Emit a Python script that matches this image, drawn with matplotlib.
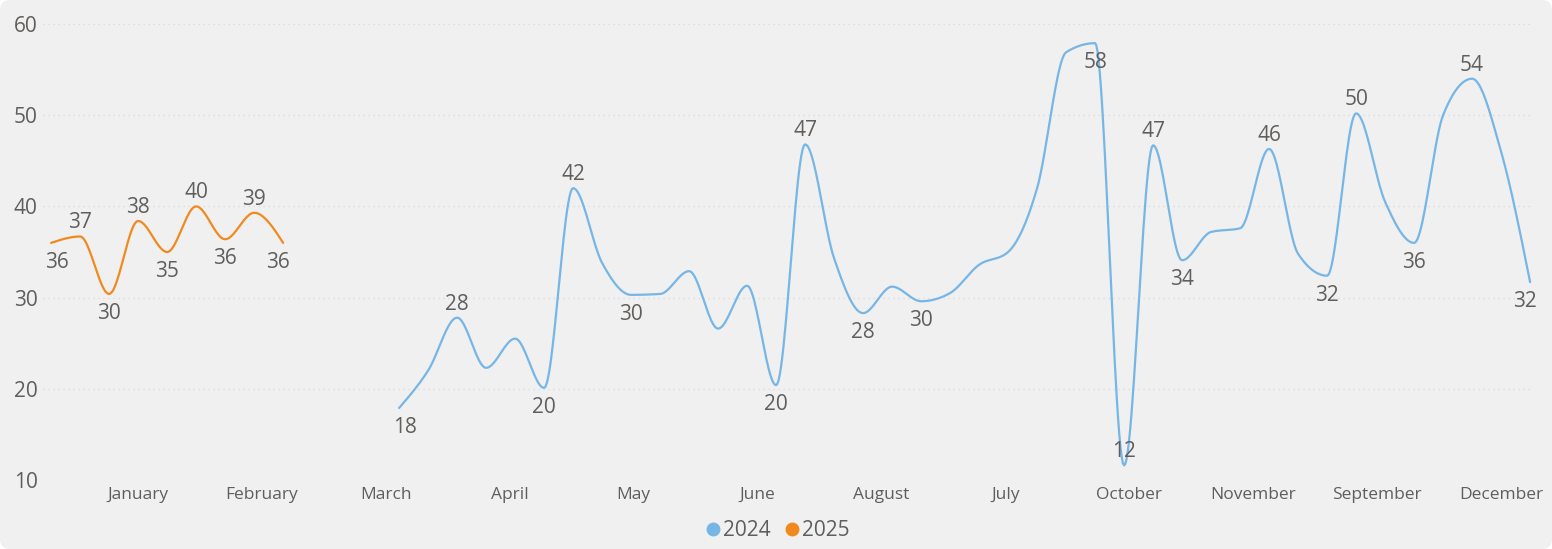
import numpy as np
import matplotlib
matplotlib.use("Agg")
import matplotlib.pyplot as plt
from matplotlib.patches import FancyBboxPatch
from matplotlib.lines import Line2D

plt.rcParams['font.family'] = ['Open Sans', 'DejaVu Sans']

# weekly values
weeks_2025 = [1, 2, 3, 4, 5, 6, 7, 8, 9]
vals_2025 = [36, 36.7, 30.4, 38.4, 35, 40, 36.4, 39.3, 36]

weeks_2024 = list(range(13, 53))
vals_2024 = [17.9, 22, 27.8, 22.3, 25.5, 20.1, 42, 33.8, 30.3, 30.4,
             32.9, 26.6, 31.3, 20.4, 46.8, 34.3, 28.3, 31.2, 29.6, 30.5,
             33.6, 35, 42, 56.9, 57.9, 11.6, 46.7, 34.1, 37.2, 37.6,
             46.3, 34.8, 32.4, 50.2, 40.5, 36, 50, 54, 46, 31.7]

# which points carry a data label, and on which side
labels_2025 = {1: 'below', 2: 'above', 3: 'below', 4: 'above', 5: 'below',
               6: 'above', 7: 'below', 8: 'above', 9: 'below'}
labels_2024 = {13: 'below', 15: 'above', 18: 'below', 19: 'above', 21: 'below',
               26: 'below', 27: 'above', 29: 'below', 31: 'below', 37: 'below',
               38: 'above', 39: 'above', 40: 'below', 43: 'above', 45: 'below',
               46: 'above', 48: 'below', 50: 'above', 52: 'below'}

month_labels = ['January', 'February', 'March', 'April', 'May', 'June',
                'August', 'July', 'October', 'November', 'September', 'December']

blue = '#76B6E6'
orange = '#F08A1E'
text_col = '#605E5C'


def monotone(x, y, n=24):
    # monotone cubic (d3 curveMonotoneX style)
    x = np.asarray(x, float)
    y = np.asarray(y, float)
    h = np.diff(x)
    s = np.diff(y) / h
    t = np.zeros(len(x))
    for i in range(1, len(x) - 1):
        p = (s[i - 1] * h[i] + s[i] * h[i - 1]) / (h[i - 1] + h[i])
        sg = (1 if s[i - 1] >= 0 else -1) + (1 if s[i] >= 0 else -1)
        t[i] = sg * min(abs(s[i - 1]), abs(s[i]), 0.5 * abs(p))
    t[0] = (3 * s[0] - t[1]) / 2
    t[-1] = (3 * s[-1] - t[-2]) / 2
    xs, ys = [], []
    for i in range(len(x) - 1):
        u = np.linspace(0, 1, n, endpoint=(i == len(x) - 2))
        h00 = 2 * u**3 - 3 * u**2 + 1
        h10 = u**3 - 2 * u**2 + u
        h01 = -2 * u**3 + 3 * u**2
        h11 = u**3 - u**2
        xs.append(x[i] + u * h[i])
        ys.append(h00 * y[i] + h10 * h[i] * t[i] + h01 * y[i + 1] + h11 * h[i] * t[i + 1])
    return np.concatenate(xs), np.concatenate(ys)


fig = plt.figure(figsize=(15.52, 5.49), dpi=100, facecolor='white')
bg = FancyBboxPatch((0, 0), 1, 1, boxstyle='round,pad=0,rounding_size=0.0065',
                    mutation_aspect=1552 / 549, transform=fig.transFigure,
                    facecolor='#F0F0F0', edgecolor='none', zorder=-10)
fig.patches.append(bg)

ax = fig.add_axes([43 / 1552, 69 / 549, 1490 / 1552, 456 / 549])
ax.set_facecolor('none')

for wk, vals, col, lbls in [(weeks_2024, vals_2024, blue, labels_2024),
                            (weeks_2025, vals_2025, orange, labels_2025)]:
    sx, sy = monotone(wk, vals)
    ax.plot(sx, sy, color=col, lw=1.6, solid_capstyle='round')
    for w, side in lbls.items():
        v = vals[wk.index(w)]
        dy = 9.8 if side == 'above' else -14.2
        dx = 0
        if w == wk[0]:
            dx = 4
        elif w == wk[-1]:
            dx = -4
        ax.annotate(f'{v:.0f}', (w, v), xytext=(dx, dy), textcoords='offset points',
                    ha='center', va='center', fontsize=15, color=text_col)

ax.set_xlim(0.72, 52.1)
ax.set_ylim(10, 60)
ax.set_yticks([10, 20, 30, 40, 50, 60])
ax.set_xticks(np.linspace(4, 51, 12))
ax.set_xticklabels(month_labels)
ax.tick_params(axis='both', length=0, colors=text_col)
ax.tick_params(axis='y', labelsize=15, pad=4)
ax.tick_params(axis='x', labelsize=12.5, pad=5)
ax.grid(axis='y', color='#D9D9D9', linestyle=(0, (1, 3)), lw=0.9)
ax.set_axisbelow(True)
for sp in ax.spines.values():
    sp.set_visible(False)

handles = [Line2D([], [], marker='o', ls='none', color=blue, markersize=9),
           Line2D([], [], marker='o', ls='none', color=orange, markersize=9)]
fig.legend(handles, ['2024', '2025'], loc='center', bbox_to_anchor=(0.5, 18 / 549),
           ncol=2, frameon=False, fontsize=15, labelcolor=text_col,
           handletextpad=0.0, columnspacing=0.5, handlelength=1.0)

fig.savefig('out.png', dpi=100, facecolor='white')
